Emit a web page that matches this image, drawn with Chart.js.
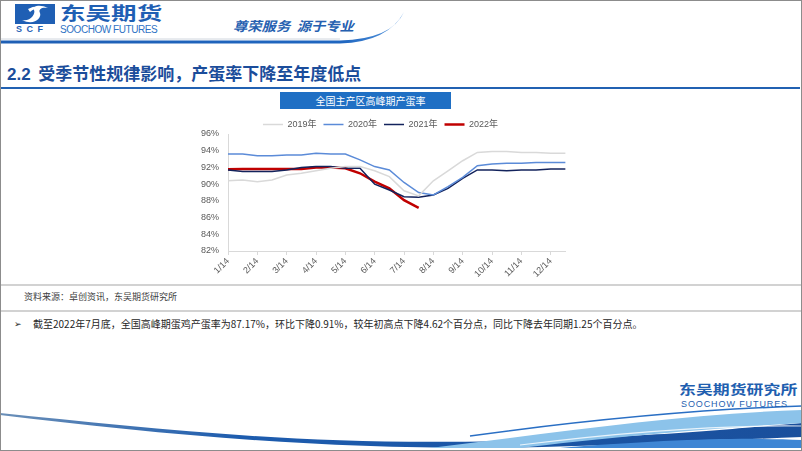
<!DOCTYPE html>
<html><head><meta charset="utf-8">
<script src="https://cdn.jsdelivr.net/npm/chart.js@4"></script>
<style>
html,body{margin:0;padding:0;background:#fff;}
#slide{position:relative;width:802px;height:451px;overflow:hidden;background:#fff;font-family:"Noto Sans CJK SC","Liberation Sans",sans-serif;}
.abs{position:absolute;white-space:nowrap;}
#frame{position:absolute;left:0;top:0;width:800px;height:449px;border:1px solid #8c8c8c;}
#chartBox{position:absolute;left:190px;top:113px;width:384px;height:168px;}
</style></head>
<body>
<div id="slide">
  <svg class="abs" style="left:0;top:0" width="802" height="451" viewBox="0 0 802 451">
    <defs>
      <linearGradient id="hdr" x1="0" y1="0" x2="1" y2="0">
        <stop offset="0" stop-color="#1f5fb4"/><stop offset="0.85" stop-color="#1f66c0"/><stop offset="1" stop-color="#5a9ae0"/>
      </linearGradient>
      <linearGradient id="wv" x1="0" y1="0" x2="1" y2="0">
        <stop offset="0" stop-color="#6a8fb8"/><stop offset="0.3" stop-color="#1d5cae"/><stop offset="1" stop-color="#1a4f9c"/>
      </linearGradient>
    </defs>
    <line x1="0" y1="39" x2="340" y2="39" stroke="#d0d6de" stroke-width="1"/>
    <path d="M0,40.5 L340,40.5 Q392,39 404,12 Q388,42 340,43.5 L0,43.5 Z" fill="url(#hdr)"/>
    <rect x="0" y="87" width="800" height="2" fill="#2161b2"/>
    <rect x="0" y="284.5" width="802" height="1" fill="#a6a6a6"/>
    <rect x="0" y="310.5" width="802" height="1" fill="#a6a6a6"/>
    <rect x="15" y="4" width="40" height="20" fill="#1f5fb4"/>
    <path d="M22,20 C30,22 36,14 34,10 C32,6 40,4 48,8 C42,7 38,9 40,13 C42,18 34,26 22,20 Z" fill="#fff"/>
    <path d="M28,9 C33,6 38,6 40,7 C36,8 32,10 30,12 Z" fill="#fff"/>
    <path d="M0,413 C150,428 300,446 500,441 C650,437 720,430 802,423 L802,437 C700,441 600,447 480,448 C300,448 150,433 0,415 Z" fill="url(#wv)"/>
    <path d="M430,448 C560,432 680,414 802,410 L802,423 C700,429 600,438 520,448 Z" fill="#8cc3ea"/>
    <path d="M470,436 C600,418 710,409 802,406" fill="none" stroke="#2a6fc4" stroke-width="1.5"/>
    <path d="M560,448 C660,440 740,437 802,440 L802,448 Z" fill="#3f86d4"/>
    <path d="M520,445 C640,430 730,425 802,426" fill="none" stroke="#ffffff" stroke-width="1.2" opacity="0.8"/>
  </svg>
  <div class="abs" style="left:16px;top:24px;font:bold 9px 'Liberation Sans';color:#1f5fb4;letter-spacing:4.5px;">SCF</div>
  <div class="abs" style="left:60px;top:1px;font-weight:bold;font-size:18px;line-height:22px;color:#1f5fb4;transform:scaleX(1.42);transform-origin:left top;">东吴期货</div>
  <div class="abs" style="left:60px;top:24px;font:10px 'Liberation Sans';color:#2e72c4;letter-spacing:-0.45px;">SOOCHOW FUTURES</div>
  <div class="abs" style="left:233px;top:18px;font-weight:bold;font-style:italic;font-size:13px;line-height:16px;color:#2560b0;transform:scaleX(1.1);transform-origin:left top;">尊荣服务&nbsp;&nbsp;源于专业</div>
  <div class="abs" style="left:7px;top:62px;font-weight:bold;font-size:17px;line-height:22px;color:#1b4d9b;"><span style="font-family:'Liberation Sans';">2.2</span>&nbsp;&nbsp;受季节性规律影响，产蛋率下降至年度低点</div>
  <div class="abs" style="left:280px;top:92px;width:171px;height:17px;background:#1f6fc4;color:#fff;font-size:10px;line-height:17px;text-align:center;text-indent:10px;">全国主产区高峰期产蛋率</div>
  <div class="abs" style="left:24px;top:290px;font-size:9px;line-height:14px;color:#404040;">资料来源：卓创资讯，东吴期货研究所</div>
  <div class="abs" style="left:14px;top:316px;font-size:9px;line-height:16px;color:#262626;">➢</div>
  <div class="abs" style="left:33px;top:316px;font-size:10px;line-height:16px;color:#262626;">截至2022年7月底，全国高峰期蛋鸡产蛋率为87.17%，环比下降0.91%，较年初高点下降4.62个百分点，同比下降去年同期1.25个百分点。</div>
  <div class="abs" style="left:679px;top:382px;font-weight:bold;font-size:13px;line-height:13px;color:#1f5fb0;transform:scaleX(1.3);transform-origin:left top;">东吴期货研究所</div>
  <div class="abs" style="left:681px;top:399.5px;font:9px 'Liberation Sans';line-height:9px;color:#1f5fb0;letter-spacing:0.9px;">SOOCHOW FUTURES</div>
  <div id="chartBox"><canvas id="c"></canvas></div>
  <div id="frame"></div>
</div>
<script>
const categories = ['1/14','1/28','2/14','2/28','3/14','3/28','4/14','4/28','5/14','5/28','6/14','6/28','7/14','7/28','8/14','8/28','9/14','9/28','10/14','10/28','11/14','11/28','12/14','12/28'];
const yTicks = [82, 84, 86, 88, 90, 92, 94, 96];
const seriesNames = ['2019年', '2020年', '2021年', '2022年'];
const y2019 = [90.4, 90.5, 90.3, 90.5, 91.1, 91.3, 91.6, 91.9, 92.1, 92.1, 91.6, 90.9, 89.2, 88.6, 90.4, 91.6, 92.8, 93.8, 93.9, 93.9, 93.8, 93.8, 93.7, 93.7];
const y2020 = [93.6, 93.6, 93.4, 93.4, 93.5, 93.5, 93.7, 93.6, 93.6, 92.9, 92.1, 91.7, 90.2, 89.0, 88.7, 89.7, 90.8, 92.2, 92.4, 92.5, 92.5, 92.6, 92.6, 92.6];
const y2021 = [91.7, 91.5, 91.5, 91.5, 91.7, 92.0, 92.1, 92.1, 91.9, 91.9, 90.0, 89.3, 88.5, 88.42, 88.7, 89.5, 90.7, 91.7, 91.7, 91.6, 91.7, 91.7, 91.8, 91.8];
const y2022 = [91.79, 91.8, 91.8, 91.8, 91.8, 91.8, 92.0, 92.0, 91.9, 91.3, 90.3, 89.5, 88.08, 87.17];
const colors = ['#d9d9d9', '#5b8bd8', '#13235c', '#c00000'];
const widths = [1.5, 1.5, 1.5, 2.5];
const allSeries = [y2019, y2020, y2021, y2022];

const tickFont = {family: "'Liberation Sans','Noto Sans CJK SC'", size: 9};
new Chart(document.getElementById('c'), {
  type: 'line',
  data: {
    labels: categories,
    datasets: allSeries.map((d, i) => ({
      label: seriesNames[i], data: d, borderColor: colors[i], backgroundColor: colors[i],
      borderWidth: widths[i], pointRadius: 0, tension: 0, fill: false
    }))
  },
  options: {
    responsive: true, maintainAspectRatio: false, animation: false,
    layout: {padding: {left: 0, right: 3, top: 0, bottom: 0}},
    plugins: {
      tooltip: {enabled: false},
      legend: {
        position: 'top', align: 'center', maxHeight: 21,
        labels: {usePointStyle: true, pointStyle: 'line', pointStyleWidth: 20, padding: 7,
          color: '#595959', font: {family: "'Liberation Sans','Noto Sans CJK SC'", size: 9}}
      }
    },
    scales: {
      x: {
        type: 'category',
        afterFit: s => { s.height = 30; },
        grid: {display: true, drawOnChartArea: false, drawTicks: true, tickLength: 4,
          color: c => (c.index % 2 === 0 ? '#d9d9d9' : 'rgba(0,0,0,0)')},
        border: {display: true, color: '#d9d9d9', width: 1},
        ticks: {autoSkip: false, maxRotation: 45, minRotation: 45, padding: 1, color: '#595959', font: tickFont,
          callback: function(v, i) { return i % 2 === 0 ? categories[i] : ''; }}
      },
      y: {
        min: yTicks[0], max: yTicks[yTicks.length - 1],
        afterFit: s => { s.width = 38; },
        afterBuildTicks: s => { s.ticks = yTicks.map(v => ({value: v})); },
        grid: {display: false, drawTicks: false},
        border: {display: true, color: '#d9d9d9', width: 1},
        ticks: {padding: 9, color: '#595959', font: tickFont, callback: v => v + '%'}
      }
    }
  }
});
</script>
</body></html>
